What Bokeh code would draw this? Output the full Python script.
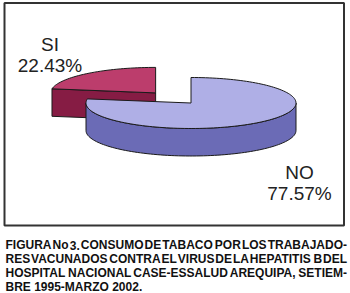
import numpy as np
from bokeh.plotting import figure
from bokeh.models import Range1d, ColumnDataSource
from bokeh.embed import file_html
from bokeh.resources import INLINE
from bokeh.core.properties import value

# ---------------- data ----------------
categories = ["SI", "NO"]
shares = [22.43, 77.57]            # percent
labels_pct = ["22.43%", "77.57%"]
explode = [0.52, 0.0]

top_colors = ["#bc3d6c", "#afafe6"]
side_colors = ["#861c44", "#6b6bb6"]

caption_lines = [
    "FIGURA No 3. CONSUMO DE TABACO POR LOS TRABAJADO-",
    "RES VACUNADOS CONTRA EL VIRUS DE LA HEPATITIS B DEL",
    "HOSPITAL NACIONAL CASE-ESSALUD AREQUIPA, SETIEM-",
    "BRE 1995-MARZO 2002.",
]
caption_justify = [True, True, True, False]

# ---------------- layout ----------------
W, H = 350, 293
p = figure(width=W, height=H, x_range=Range1d(0, W), y_range=Range1d(H, 0),
           output_backend="svg", toolbar_location=None, min_border=0, title=None,
           background_fill_color="white", border_fill_color="white")
p.axis.visible = False
p.grid.visible = False
p.outline_line_color = None

# frame around the chart area
p.quad(left=[4], right=[343.5], top=[2.5], bottom=[225], fill_color=None,
       line_color="#333333", line_width=2)

# ---------------- 3D pie ----------------
cx, cy = 190.5, 102.5
rx, ry, depth = 105.0, 25.5, 27.5


def arc(ox, oy, a0, a1, n=None):
    if n is None:
        n = max(2, int(abs(a1 - a0) / 2) + 2)
    a = np.radians(np.linspace(a0, a1, n))
    return list(ox + rx * np.cos(a)), list(oy - ry * np.sin(a))


xs, ys, fills = [], [], []
start = 90.0
for cat, share, ex, tc, sc in zip(categories, shares, explode, top_colors, side_colors):
    a0 = start
    a1 = start + share * 3.6
    start = a1
    mid = np.radians((a0 + a1) / 2)
    ox = cx + ex * rx * np.cos(mid)
    oy = cy - ex * ry * np.sin(mid)

    # outer side (front half: 180..360 deg, modulo 360)
    for k in (0, 360):
        lo, hi = max(a0, 180 + k), min(a1, 360 + k)
        if hi > lo:
            tx, ty = arc(ox, oy, lo, hi)
            xs.append(tx + tx[::-1])
            ys.append(ty + [v + depth for v in ty[::-1]])
            fills.append(sc)

    # radial cut faces that face the viewer
    for edge, normal in ((a0, a0 - 90), (a1, a1 + 90)):
        if np.sin(np.radians(normal)) < -1e-6:
            ex_, ey_ = ox + rx * np.cos(np.radians(edge)), oy - ry * np.sin(np.radians(edge))
            xs.append([ox, ex_, ex_, ox])
            ys.append([oy, ey_, ey_ + depth, oy + depth])
            fills.append(sc)

    # top face
    tx, ty = arc(ox, oy, a0, a1)
    xs.append([ox] + tx)
    ys.append([oy] + ty)
    fills.append(tc)

p.patches(xs="xs", ys="ys", fill_color="fill", source=ColumnDataSource(dict(xs=xs, ys=ys, fill=fills)),
          line_color="#1a1a1a", line_width=1)

# slice labels
lab_x = [49.5, 299.0]
lab_y1 = [44.0, 172.0]
lab_y2 = [65.0, 193.0]
p.text(x=lab_x + lab_x, y=lab_y1 + lab_y2, text=categories + labels_pct,
       text_font=value("Liberation Sans"), text_font_size="19px", text_color="#222222",
       text_align="center", text_baseline="alphabetic")

# ---------------- caption (justified) ----------------
AW = {c: 0.722 for c in "ABCDHKNRUX"}
AW.update({"E": .667, "F": .611, "G": .778, "I": .278, "J": .556, "L": .611, "M": .833,
           "O": .778, "P": .667, "Q": .778, "S": .667, "T": .611, "V": .667, "W": .944,
           "Y": .667, "Z": .611, "o": .611, " ": .278, ",": .278, ".": .278, "-": .333})
for d in "0123456789":
    AW[d] = .556

fs = 12.0
x_left, x_right = 5.0, 346.5
mid_y = [244.5, 258.6, 272.6, 286.2]
wx, wy, wt = [], [], []
for line, just, by in zip(caption_lines, caption_justify, mid_y):
    words = line.split(" ")
    widths = [sum(AW.get(c, .667) for c in w) * fs for w in words]
    if just and len(words) > 1:
        gap = (x_right - x_left - sum(widths)) / (len(words) - 1)
    else:
        gap = AW[" "] * fs
    x = x_left
    for w, wd in zip(words, widths):
        wx.append(x)
        wy.append(by)
        wt.append(w)
        x += wd + gap

p.text(x=wx, y=wy, text=wt, text_font=value("Liberation Sans"), text_font_style="bold",
       text_font_size=f"{fs}px", text_color="#111111", text_align="left", text_baseline="middle")

open("out.html", "w").write(file_html(p, INLINE))
